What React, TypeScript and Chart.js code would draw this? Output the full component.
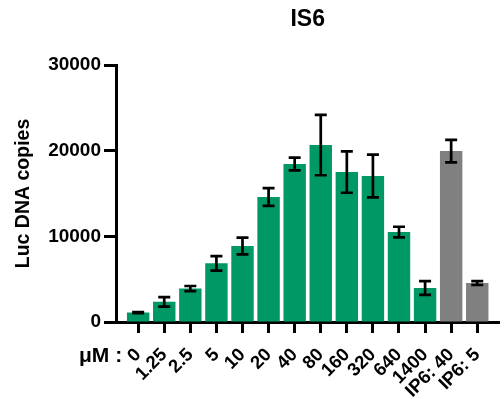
import React, { useEffect, useRef } from "react";
import { Chart, registerables } from "chart.js";

Chart.register(...registerables);

const categories = ["0", "1.25", "2.5", "5", "10", "20", "40", "80", "160", "320", "640", "1400", "IP6: 40", "IP6: 5"];
const concValues = [1100, 2350, 3900, 6850, 8870, 14590, 18440, 20650, 17500, 17040, 10500, 3970];
const concErrors = [60, 550, 300, 850, 970, 1030, 740, 3520, 2410, 2490, 620, 800];
const ip6Values = [19950, 4550];
const ip6Errors = [1320, 230];
const yTickValues = [0, 10000, 20000, 30000];
const chartTitle = "IS6";
const yTitle = "Luc DNA copies";
const xPrefix = "μM :";

const FONT = "'Liberation Sans', Arial, Helvetica, sans-serif";
const GREEN = "#009966";
const GREY = "#808080";

const overlayPlugin = {
  id: "overlay",
  afterDatasetsDraw(chart: any) {
    const ctx = chart.ctx;
    const y = chart.scales.y;
    ctx.save();
    ctx.strokeStyle = "#000";
    ctx.lineWidth = 2.7;
    ctx.lineCap = "butt";
    chart.data.datasets.forEach((ds: any, di: number) => {
      const meta = chart.getDatasetMeta(di);
      meta.data.forEach((el: any, i: number) => {
        const v = ds.data[i].y;
        const e = ds.errors[i];
        const x = el.x;
        const yt = y.getPixelForValue(v + e);
        const yb = y.getPixelForValue(v - e);
        ctx.beginPath();
        ctx.moveTo(x, yt);
        ctx.lineTo(x, yb);
        ctx.moveTo(x - 6, yt);
        ctx.lineTo(x + 6, yt);
        ctx.moveTo(x - 6, yb);
        ctx.lineTo(x + 6, yb);
        ctx.stroke();
      });
    });
    ctx.restore();
  },
  afterDraw(chart: any) {
    const ctx = chart.ctx;
    const area = chart.chartArea;
    const xs = chart.scales.x;
    ctx.save();
    ctx.fillStyle = "#000";
    ctx.font = `bold 23px ${FONT}`;
    ctx.textAlign = "center";
    ctx.textBaseline = "middle";
    ctx.fillText(chartTitle, (area.left + area.right) / 2, 20);

    ctx.save();
    ctx.translate(24, (area.top + area.bottom) / 2);
    ctx.rotate(-Math.PI / 2);
    ctx.font = `bold 19.5px ${FONT}`;
    ctx.textAlign = "center";
    ctx.textBaseline = "middle";
    ctx.fillText(yTitle, 0, 0);
    ctx.restore();

    ctx.font = `bold 21px ${FONT}`;
    ctx.textAlign = "right";
    ctx.textBaseline = "alphabetic";
    ctx.fillText(xPrefix, xs.getPixelForValue(0) - 16, area.bottom + 40);
    ctx.restore();
  },
};

export default function App() {
  const ref = useRef<HTMLCanvasElement | null>(null);
  useEffect(() => {
    if (!ref.current) return;
    const chart = new Chart(ref.current, {
      type: "bar",
      data: {
        datasets: [
          {
            label: "Concentration",
            data: concValues.map((v, i) => ({ x: i, y: v })),
            errors: concErrors,
            backgroundColor: GREEN,
            borderWidth: 0,
            grouped: false,
            categoryPercentage: 1,
            barPercentage: 0.86,
          } as any,
          {
            label: "IP6",
            data: ip6Values.map((v, i) => ({ x: concValues.length + i, y: v })),
            errors: ip6Errors,
            backgroundColor: GREY,
            borderWidth: 0,
            grouped: false,
            categoryPercentage: 1,
            barPercentage: 0.86,
          } as any,
        ],
      },
      options: {
        responsive: false,
        animation: false,
        events: [],
        layout: { padding: { top: 65, right: 1, left: 0, bottom: 0 } },
        plugins: { legend: { display: false }, title: { display: false }, tooltip: { enabled: false } },
        scales: {
          x: {
            type: "linear",
            offset: false,
            min: -0.85,
            max: categories.length - 0.15,
            z: 1,
            afterFit: (s: any) => {
              s.height = 77;
            },
            border: { display: true, color: "#000", width: 3 },
            grid: { display: true, offset: false, drawOnChartArea: false, drawTicks: true, tickLength: 11, tickWidth: 3, tickColor: "#000", color: "#000" },
            ticks: {
              stepSize: 1,
              includeBounds: false,
              autoSkip: false,
              minRotation: 45,
              maxRotation: 45,
              padding: 11,
              color: "#000",
              font: { family: FONT, size: 18.5, weight: "bold" },
              callback: (v: any) => (Number.isInteger(v) && v >= 0 && v < categories.length ? categories[v] : ""),
            },
          },
          y: {
            type: "linear",
            min: yTickValues[0],
            max: yTickValues[yTickValues.length - 1],
            z: 1,
            afterFit: (s: any) => {
              s.width = 116;
            },
            afterBuildTicks: (s: any) => {
              s.ticks = yTickValues.map((v) => ({ value: v }));
            },
            border: { display: true, color: "#000", width: 3 },
            grid: { display: true, drawOnChartArea: false, drawTicks: true, tickLength: 12, tickWidth: 3, tickColor: "#000", color: "#000" },
            ticks: {
              padding: 3,
              color: "#000",
              font: { family: FONT, size: 19, weight: "bold" },
              callback: (v: any) => String(v),
            },
          },
        },
      } as any,
      plugins: [overlayPlugin],
    });
    return () => chart.destroy();
  }, []);
  return (
    <div style={{ position: "absolute", left: 0, top: 0, width: 504, height: 399 }}>
      <canvas ref={ref} width={504} height={399} />
    </div>
  );
}
